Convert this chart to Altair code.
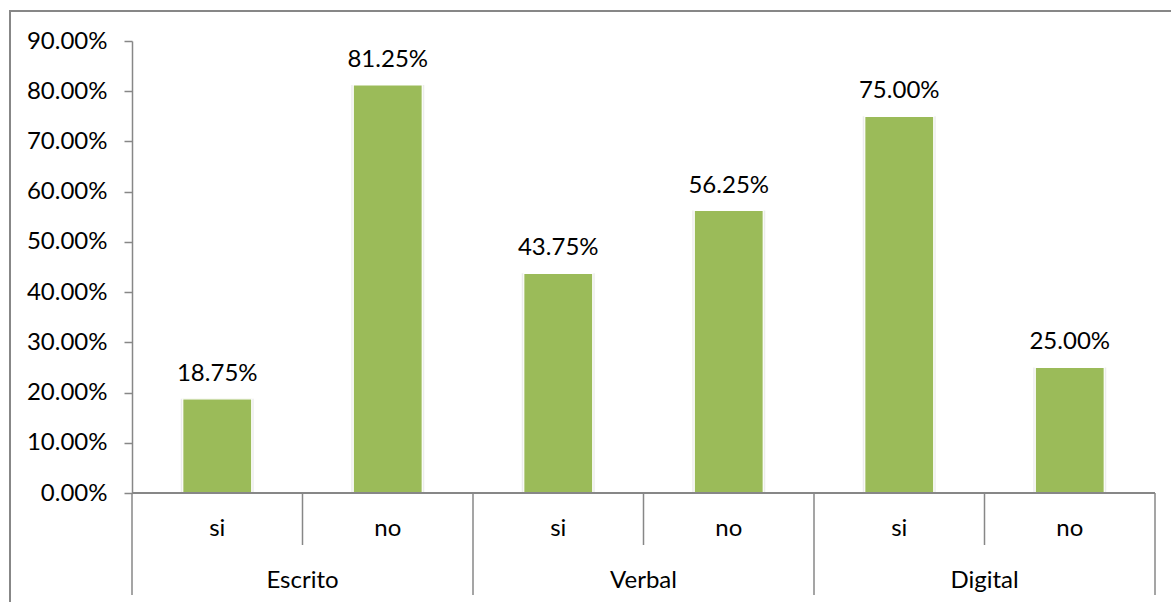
import altair as alt
import pandas as pd

# Survey answers per communication channel
groups = ["Escrito", "Escrito", "Verbal", "Verbal", "Digital", "Digital"]
answers = ["si", "no", "si", "no", "si", "no"]
shares = [0.1875, 0.8125, 0.4375, 0.5625, 0.75, 0.25]
group_names = ["Escrito", "Verbal", "Digital"]
y_ticks = [0.0, 0.1, 0.2, 0.3, 0.4, 0.5, 0.6, 0.7, 0.8, 0.9]

FONT = "Lato"
GRAY = "#878787"
GREEN = "#9BBB59"
FS = 24
W, H = 1023, 452

bars = pd.DataFrame({"grupo": groups, "respuesta": answers, "valor": shares})
bars["pos"] = [i + 0.5 for i in range(len(bars))]

groups_df = pd.DataFrame({"grupo": group_names})
groups_df["pos"] = [2 * i + 1 for i in range(len(group_names))]

# slot boundaries below the axis: short ones split si/no, long ones split groups
edges = pd.DataFrame({"pos": list(range(len(bars) + 1))})
edges["largo"] = edges["pos"] % 2 == 0

xscale = alt.Scale(domain=[0, len(bars)], nice=False, zero=False, padding=0)
yscale = alt.Scale(domain=[0, 0.9], nice=False, padding=0)
xenc = alt.X("pos:Q", scale=xscale, axis=None)

base = alt.Chart(bars)

shadow = base.mark_bar(size=73, color="#c8c8c8", opacity=0.35).encode(
    x=xenc,
    y=alt.Y("valor:Q", scale=yscale),
)

bar = base.mark_bar(size=69, color=GREEN, stroke="#ffffff", strokeWidth=1.2).encode(
    x=xenc,
    y=alt.Y(
        "valor:Q",
        scale=yscale,
        title=None,
        axis=alt.Axis(
            values=y_ticks,
            format=".2%",
            grid=False,
            domainColor=GRAY,
            domainWidth=1.5,
            tickColor=GRAY,
            tickWidth=1.5,
            tickSize=8,
            labelPadding=17,
            labelFont=FONT,
            labelFontSize=FS,
            labelColor="#000000",
        ),
    ),
)

values = base.mark_text(
    font=FONT, fontSize=FS, color="#000000", baseline="bottom", dy=-13
).encode(
    x=xenc,
    y=alt.Y("valor:Q", scale=yscale),
    text=alt.Text("valor:Q", format=".2%"),
)

answer_text = base.mark_text(
    font=FONT, fontSize=FS, color="#000000", baseline="middle"
).encode(x=xenc, y=alt.value(H + 36), text="respuesta:N")

group_text = (
    alt.Chart(groups_df)
    .mark_text(font=FONT, fontSize=FS, color="#000000", baseline="middle")
    .encode(x=xenc, y=alt.value(H + 88), text="grupo:N")
)

axis_line = (
    alt.Chart(edges)
    .mark_rule(color=GRAY, strokeWidth=1.5)
    .encode(x=alt.value(0), x2=alt.value(W), y=alt.value(H))
)

short_sep = (
    alt.Chart(edges)
    .transform_filter("!datum.largo")
    .mark_rule(color=GRAY, strokeWidth=1.5)
    .encode(x=xenc, y=alt.value(H), y2=alt.value(H + 52))
)

long_sep = (
    alt.Chart(edges)
    .transform_filter("datum.largo")
    .mark_rule(color=GRAY, strokeWidth=1.5)
    .encode(x=xenc, y=alt.value(H), y2=alt.value(H + 102))
)

frame_top = (
    alt.Chart(edges)
    .mark_rule(color=GRAY, strokeWidth=2)
    .encode(x=alt.value(-122), x2=alt.value(1060), y=alt.value(-30))
)
frame_left = (
    alt.Chart(edges)
    .mark_rule(color=GRAY, strokeWidth=2)
    .encode(x=alt.value(-122), y=alt.value(-31), y2=alt.value(600))
)

chart = (
    alt.layer(
        frame_top,
        frame_left,
        shadow,
        bar,
        values,
        axis_line,
        short_sep,
        long_sep,
        answer_text,
        group_text,
    )
    .properties(
        width=W,
        height=H,
        autosize=alt.AutoSizeParams(type="none"),
        padding={"left": 132, "top": 41, "right": 16, "bottom": 109},
        background="#ffffff",
    )
    .configure_view(stroke=None)
)

chart.save("out.html", embed_options={"renderer": "svg", "actions": False})
